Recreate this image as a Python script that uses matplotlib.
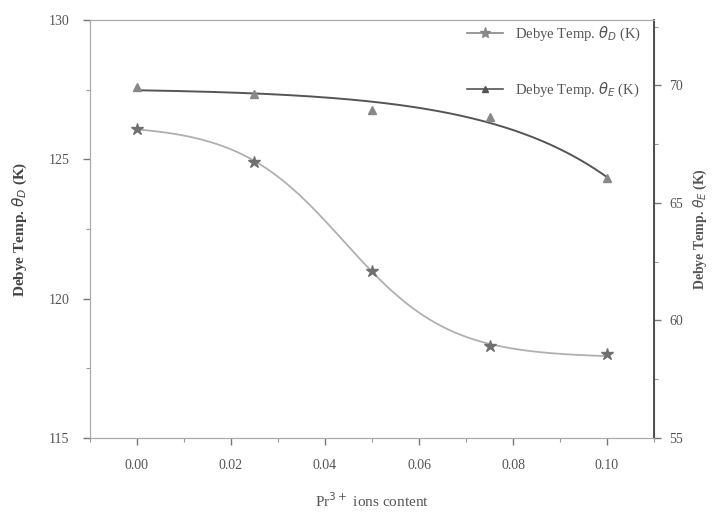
import matplotlib
matplotlib.use("Agg")
import matplotlib.pyplot as plt
import numpy as np

plt.rcParams['font.family'] = ['Liberation Serif', 'DejaVu Serif']

# Pr3+ ion content
content = [0.00, 0.025, 0.05, 0.075, 0.10]
# Debye temp theta_D (left axis, stars)
theta_d = [126.1, 124.9, 121.0, 118.3, 118.0]
# Debye temp theta_E (right axis, triangles)
theta_e = [69.95, 69.65, 68.95, 68.65, 66.05]

xticks = [0.00, 0.02, 0.04, 0.06, 0.08, 0.10]
xlabels = ["0.00", "0.02", "0.04", "0.06", "0.08", "0.10"]


def boltzmann_fit(x, y):
    # sigmoid fit: grid over centre/width, linear least squares for the plateaus
    x = np.asarray(x, float)
    y = np.asarray(y, float)
    best = None
    for x0 in np.linspace(0.02, 0.08, 121):
        for dx in np.linspace(0.004, 0.04, 91):
            s = 1.0 / (1.0 + np.exp((x - x0) / dx))
            A = np.column_stack([s, 1 - s])
            coef, *_ = np.linalg.lstsq(A, y, rcond=None)
            err = np.sum((A @ coef - y) ** 2)
            if best is None or err < best[0]:
                best = (err, x0, dx, coef)
    _, x0, dx, (a1, a2) = best
    return lambda t: a2 + (a1 - a2) / (1.0 + np.exp((t - x0) / dx))


def exp_fit(x, y):
    # y = a + b*exp(x/c), grid over c
    x = np.asarray(x, float)
    y = np.asarray(y, float)
    best = None
    for c in np.linspace(0.005, 0.2, 400):
        A = np.column_stack([np.ones_like(x), np.exp(x / c)])
        coef, *_ = np.linalg.lstsq(A, y, rcond=None)
        err = np.sum((A @ coef - y) ** 2)
        if best is None or err < best[0]:
            best = (err, c, coef)
    _, c, (a, b) = best
    return lambda t: a + b * np.exp(t / c)


fig = plt.figure(figsize=(7.18, 5.12), dpi=100)
ax = fig.add_axes([0.1253, 0.1445, 0.7856, 0.8165])
ax2 = ax.twinx()

xs = np.linspace(0, 0.10, 300)
fit_d = boltzmann_fit(content, theta_d)
fit_e = exp_fit(content, theta_e)

ax.plot(xs, fit_d(xs), color='#b0b0b0', lw=1.3)
ax.plot(content, theta_d, '*', color='#707070', ms=9, ls='none')
ax2.plot(xs, fit_e(xs), color='#555555', lw=1.4)
ax2.plot(content, theta_e, '^', color='#888888', ms=6, ls='none')

ax.set_xlim(-0.0095, 0.1097)
ax.set_ylim(115, 130)
ax2.set_ylim(55, 72.78)

ax.set_xticks(xticks)
ax.set_xticklabels(xlabels)
ax.set_xticks(np.arange(-0.01, 0.111, 0.01), minor=True)
ax.set_yticks([115, 120, 125, 130])
ax.set_yticks(np.arange(115, 130.1, 2.5), minor=True)
ax2.set_yticks([55, 60, 65, 70])
ax2.set_yticks(np.arange(55, 72.6, 2.5), minor=True)

for a in (ax, ax2):
    a.tick_params(which='major', direction='out', length=5, width=1, color='#777777',
                  labelsize=10, labelcolor='#555555', pad=10)
    a.tick_params(which='minor', direction='out', length=3, width=0.8, color='#999999')
    for s in a.spines.values():
        s.set_color('#aaaaaa')
ax2.tick_params(which='major', pad=6)
ax2.spines['right'].set_color('#444444')
ax2.spines['right'].set_linewidth(1.3)

ax.set_xlabel("Pr$^{3+}$ ions content", fontsize=11, color='#555555', labelpad=14)
ax.set_ylabel(r"Debye Temp. $\theta_D$ (K)", fontsize=11, fontweight='bold',
              color='#444444', labelpad=14)
ax2.set_ylabel(r"Debye Temp. $\theta_E$ (K)", fontsize=10, fontweight='bold',
               color='#555555', labelpad=6)

h1, = ax.plot([], [], '-*', color='#888888', ms=8, lw=1.2)
h2, = ax.plot([], [], '-^', color='#555555', ms=5, lw=1.2)
ax.legend([h1, h2], [r"Debye Temp. $\theta_D$ (K)", r"Debye Temp. $\theta_E$ (K)"],
          loc='upper right', bbox_to_anchor=(1.0, 1.02), frameon=False, fontsize=10.5,
          labelspacing=2.6, handlelength=2.5, labelcolor='#555555')

fig.savefig("out.png", dpi=100)
